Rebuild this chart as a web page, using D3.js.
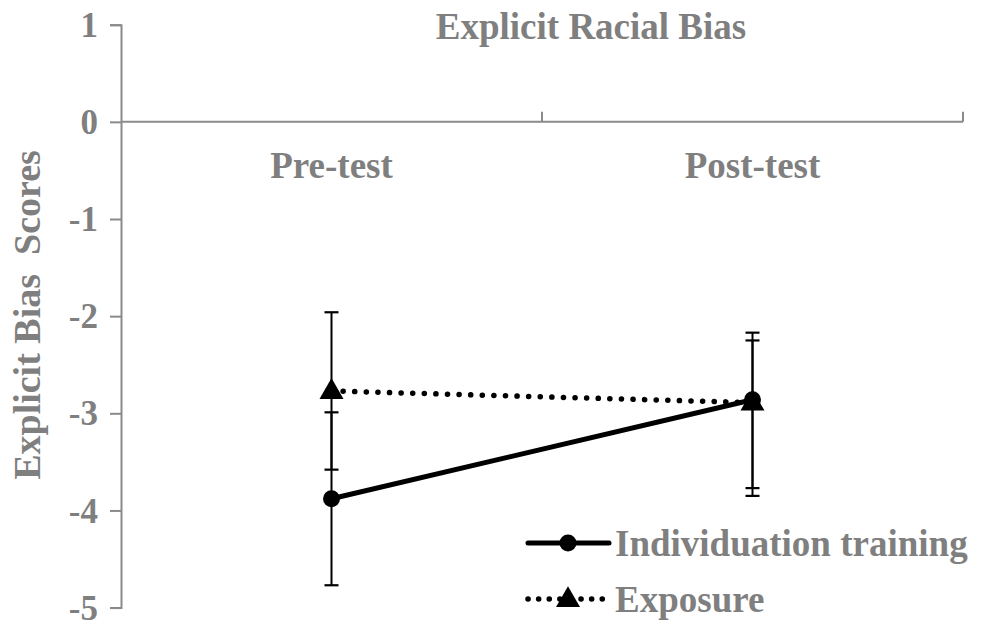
<!DOCTYPE html>
<html>
<head>
<meta charset="utf-8">
<script src="https://cdn.jsdelivr.net/npm/d3@7"></script>
<style>
  html, body { margin: 0; padding: 0; background: #fff; }
  svg { display: block; }
  text { font-family: "Liberation Serif", "Times New Roman", serif; font-weight: bold; fill: #7f7f7f; }
</style>
</head>
<body>
<script>
// ---- data ----
const categories = ["Pre-test", "Post-test"];
const seriesNames = ["Individuation training", "Exposure"];
const individuationMean = [-3.88, -2.86];
const individuationUpper = [-2.99, -2.17];
const individuationLower = [-4.77, -3.77];
const exposureMean = [-2.77, -2.89];
const exposureUpper = [-1.96, -2.25];
const exposureLower = [-3.58, -3.85];
const yTicks = [1, 0, -1, -2, -3, -4, -5];
const chartTitle = "Explicit Racial Bias";
const yTitle = "Explicit Bias  Scores";

const W = 982, H = 627;
const svg = d3.select("body").append("svg").attr("width", W).attr("height", H);

const y = d3.scaleLinear().domain([-5, 1]).range([607.6, 24.7]);
const x = d3.scaleBand().domain(categories).range([121, 963]).padding(0);
const cx = c => x(c) + x.bandwidth() / 2;

const axisColor = "#8a8a8a";

// y axis
const yAxis = svg.append("g").attr("transform", "translate(121,0)")
  .call(d3.axisLeft(y).tickValues(yTicks).tickSize(11).tickFormat(d3.format("d")));
yAxis.select(".domain").attr("stroke", axisColor).attr("stroke-width", 2);
yAxis.selectAll(".tick line").attr("stroke", axisColor).attr("stroke-width", 2);
yAxis.selectAll(".tick text")
  .attr("x", -23).attr("dy", "0.33em")
  .style("font-size", "35px").style("font-family", "Liberation Serif").style("font-weight", "bold")
  .attr("fill", "#7f7f7f")
  .text(d => d < 0 ? "-" + Math.abs(d) : d);

// x axis at y=0
const xAxisG = svg.append("g").attr("transform", `translate(0,${y(0)})`);
xAxisG.append("line").attr("x1", 121).attr("x2", 963).attr("y1", 0).attr("y2", 0)
  .attr("stroke", axisColor).attr("stroke-width", 2);
const boundaries = categories.slice(1).map(c => x(c)).concat([x.range()[1]]);
xAxisG.selectAll("line.tk").data(boundaries).enter().append("line").attr("class", "tk")
  .attr("x1", d => d).attr("x2", d => d).attr("y1", 0).attr("y2", -10)
  .attr("stroke", axisColor).attr("stroke-width", 2);
xAxisG.selectAll("text.cat").data(categories).enter().append("text").attr("class", "cat")
  .attr("x", d => cx(d)).attr("y", 56).attr("text-anchor", "middle")
  .style("font-size", "37px").text(d => d);

// title
svg.append("text").attr("x", 591).attr("y", 39).attr("text-anchor", "middle")
  .style("font-size", "37px").text(chartTitle);

// y title
svg.append("text").attr("transform", "translate(40,315) rotate(-90)")
  .attr("text-anchor", "middle").style("font-size", "38px").style("white-space", "pre")
  .text(yTitle);

// series
const series = [
  { name: seriesNames[0], mean: individuationMean, up: individuationUpper, lo: individuationLower, dash: null, marker: "circle" },
  { name: seriesNames[1], mean: exposureMean, up: exposureUpper, lo: exposureLower, dash: "0.1 11.5", marker: "triangle" }
];

const line = d3.line().x((d, i) => cx(categories[i])).y(d => y(d));

// error bars
series.forEach(s => {
  const g = svg.append("g");
  categories.forEach((c, i) => {
    const xx = cx(c);
    g.append("line").attr("x1", xx).attr("x2", xx).attr("y1", y(s.up[i])).attr("y2", y(s.lo[i]))
      .attr("stroke", "#000").attr("stroke-width", 2);
    [s.up[i], s.lo[i]].forEach(v => {
      g.append("line").attr("x1", xx - 7).attr("x2", xx + 7).attr("y1", y(v)).attr("y2", y(v))
        .attr("stroke", "#000").attr("stroke-width", 2.2);
    });
  });
});

const triPath = d3.symbol().type(d3.symbolTriangle).size(250);
function drawMarker(g, type, px, py) {
  if (type === "circle") {
    g.append("circle").attr("cx", px).attr("cy", py).attr("r", 8.5).attr("fill", "#000");
  } else {
    g.append("path").attr("d", triPath()).attr("transform", `translate(${px},${py + 1})`).attr("fill", "#000");
  }
}

series.forEach(s => {
  const g = svg.append("g");
  const p = g.append("path").datum(s.mean).attr("d", line).attr("fill", "none")
    .attr("stroke", "#000").attr("stroke-width", s.dash ? 5.5 : 5);
  if (s.dash) p.attr("stroke-dasharray", s.dash).attr("stroke-linecap", "round");
  s.mean.forEach((v, i) => drawMarker(g, s.marker, cx(categories[i]), y(v)));
});

// legend
const legendRows = [543, 599];
series.forEach((s, i) => {
  const g = svg.append("g").attr("transform", `translate(0,${legendRows[i]})`);
  const l = g.append("line").attr("x1", 528).attr("x2", 609).attr("y1", 0).attr("y2", 0)
    .attr("stroke", "#000").attr("stroke-width", s.dash ? 5.5 : 5);
  if (s.dash) l.attr("stroke-dasharray", "0.1 10.5").attr("stroke-linecap", "round");
  else l.attr("stroke-linecap", "round");
  drawMarker(g, s.marker, 568, 0);
  g.append("text").attr("x", 615).attr("y", 0).attr("dy", "0.35em")
    .style("font-size", "37px").text(s.name);
});
</script>
</body>
</html>
